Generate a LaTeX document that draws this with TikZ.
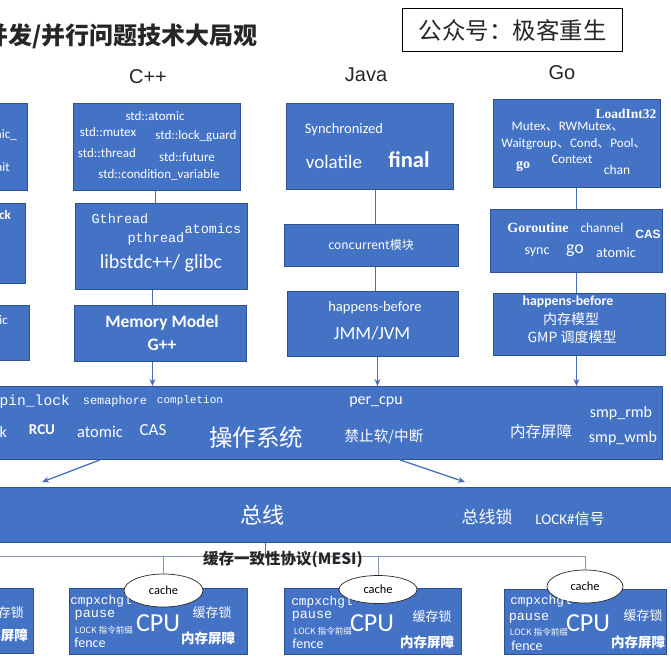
\documentclass[tikz,border=0pt]{standalone}
\usepackage{fontspec}
\setmainfont{Carlito}
\newfontfamily\cjk{Noto Sans CJK SC}
\newfontfamily\mono{Liberation Mono}
\newfontfamily\tms{Liberation Serif}
\newfontfamily\arl{Liberation Sans}
\usetikzlibrary{arrows.meta,calc,shapes.geometric}
\definecolor{boxblue}{HTML}{4472C4}
\definecolor{boxline}{HTML}{2F528F}
\definecolor{lineblue}{HTML}{4A6FB5}
\definecolor{mesigray}{HTML}{8596AE}
\definecolor{darktxt}{HTML}{262626}
\newcommand\fsz[1]{\fontsize{#1pt}{#1pt}\selectfont}
\begin{document}
\begin{tikzpicture}[x=1pt,y=-1pt,
  box/.style={draw=boxline, fill=boxblue, line width=0.9pt, inner sep=0pt, anchor=north west},
  txt/.style={text=white, inner sep=0pt},
  lbl/.style={text=darktxt, inner sep=0pt},
  conn/.style={draw=lineblue, line width=1.3pt},
  arr/.style={conn, -{Stealth[length=7pt,width=6pt]}},
  mesi/.style={draw=mesigray, line width=0.9pt},
  cache/.style={ellipse, draw=darktxt, fill=white, line width=0.7pt, inner sep=0pt, text=black, font=\fsz{12.4}}
]
\useasboundingbox (0,0) rectangle (671,670);

% ---------- headings ----------
\node[lbl, anchor=east, font=\cjk\bfseries\fsz{24}] (title) at (258,36) {并发/并行问题技术大局观};
\node[draw=black, line width=1.1pt, minimum width=220pt, minimum height=43pt, inner sep=0pt, anchor=north west] (wm) at (402,8) {};
\node[lbl, font=\cjk\fsz{23.5}] (wmt) at (wm.center) {公众号：极客重生};
\node[lbl, font=\arl\fsz{20}] (hcpp) at (148,77) {C++};
\node[lbl, font=\arl\fsz{20}] (hjava) at (366,75) {Java};
\node[lbl, font=\arl\fsz{20}] (hgo) at (562,73) {Go};

% ---------- left (cut) column ----------
\node[box, minimum width=37pt, minimum height=87pt] (leftA) at (-10,103) {};
\node[box, minimum width=35pt, minimum height=80pt] (leftB) at (-10,203) {};
\node[box, minimum width=39pt, minimum height=55pt] (leftC) at (-10,305) {};
\node[txt, anchor=east, font=\fsz{13}] (la1) at (17,135) {atomic\_};
\node[txt, anchor=east, font=\fsz{13}] (la2) at (10,167) {wait};
\node[txt, anchor=east, font=\bfseries\fsz{13}] (lb1) at (11,215) {lock};
\node[txt, anchor=east, font=\fsz{13}] (lc1) at (8,320) {atomic};

% ---------- C++ column ----------
\node[box, minimum width=167pt, minimum height=87pt] (cppA) at (73,103) {};
\node[txt, font=\fsz{13}] (ca1) at (155,116) {std::atomic};
\node[txt, font=\fsz{13}] (ca2) at (108,132) {std::mutex};
\node[txt, font=\fsz{13}] (ca3) at (196,136) {std::lock\_guard};
\node[txt, font=\fsz{13}] (ca4) at (107,153) {std::thread};
\node[txt, font=\fsz{13}] (ca5) at (187,157) {std::future};
\node[txt, font=\fsz{13}] (ca6) at (159,175) {std::condition\_variable};

\node[box, minimum width=172pt, minimum height=86pt] (cppB) at (75,203) {};
\node[txt, font=\mono\fsz{13.5}] (cb1) at (120,219) {Gthread};
\node[txt, font=\mono\fsz{13.5}] (cb2) at (213,229) {atomics};
\node[txt, font=\mono\fsz{13.5}] (cb3) at (156,239) {pthread};
\node[txt, font=\fsz{20}] (cb4) at (161,263) {libstdc++/ glibc};

\node[box, minimum width=172pt, minimum height=56pt] (cppC) at (74,305) {};
\node[txt, font=\bfseries\fsz{17.5}] (cc1) at (162,323) {Memory Model};
\node[txt, font=\bfseries\fsz{17.5}] (cc2) at (162,345) {G++};

% ---------- Java column ----------
\node[box, minimum width=167pt, minimum height=86pt] (javaA) at (286,103) {};
\node[txt, font=\fsz{14.5}] (ja1) at (344,130) {Synchronized};
\node[txt, font=\fsz{19}] (ja2) at (334,162) {volatile};
\node[txt, font=\bfseries\fsz{22.5}] (ja3) at (409,160) {final};

\node[box, minimum width=174pt, minimum height=42pt] (javaB) at (284,224) {};
\node[txt, font=\cjk\fsz{12}] (jb1) at (371,245) {concurrent模块};

\node[box, minimum width=171pt, minimum height=65pt] (javaC) at (287,291) {};
\node[txt, font=\fsz{14.5}] (jc1) at (375,308) {happens-before};
\node[txt, font=\fsz{18.5}] (jc2) at (372,333) {JMM/JVM};

% ---------- Go column ----------
\node[box, minimum width=167pt, minimum height=88pt] (goA) at (493,99) {};
\node[txt, font=\tms\bfseries\fsz{13.5}] (ga1) at (626,114) {LoadInt32};
\node[txt, font=\fsz{13}] (ga2) at (568,127) {Mutex{\cjk 、}RWMutex{\cjk 、}};
\node[txt, font=\fsz{13}] (ga3) at (574,144) {Waitgroup{\cjk 、}Cond{\cjk 、}Pool{\cjk 、}};
\node[txt, font=\fsz{13}] (ga4) at (572,159) {Context};
\node[txt, font=\tms\bfseries\fsz{14}] (ga5) at (523,166) {go};
\node[txt, font=\fsz{13.5}] (ga6) at (617,170) {chan};

\node[box, minimum width=172pt, minimum height=63pt] (goB) at (490,209) {};
\node[txt, font=\tms\bfseries\fsz{14}] (gb1) at (538,228) {Goroutine};
\node[txt, font=\fsz{13.4}] (gb2) at (602,228) {channel};
\node[txt, font=\arl\bfseries\fsz{12}] (gb3) at (648,234) {CAS};
\node[txt, font=\fsz{14}] (gb4) at (537,252) {sync};
\node[txt, font=\fsz{18}] (gb5) at (575,251) {go};
\node[txt, font=\fsz{14.3}] (gb6) at (616,253) {atomic};

\node[box, minimum width=172pt, minimum height=62pt] (goC) at (493,293) {};
\node[txt, font=\bfseries\fsz{13.8}] (gc1) at (568,302) {happens-before};
\node[txt, font=\cjk\fsz{14}] (gc2) at (571,319) {内存模型};
\node[txt, font=\cjk\fsz{14}] (gc3) at (572,337) {GMP 调度模型};

% ---------- OS ----------
\node[box, minimum width=672pt, minimum height=73pt] (os) at (-10,386) {};
\node[txt, anchor=east, font=\mono\fsz{14.6}] (o1) at (70,402) {spin\_lock};
\node[txt, font=\mono\fsz{11.9}] (o2) at (115,401) {semaphore};
\node[txt, font=\mono\fsz{11}] (o3) at (190,401) {completion};
\node[txt, anchor=east, font=\fsz{16}] (o4) at (7,432) {lock};
\node[txt, font=\bfseries\fsz{15}] (o5) at (42,430) {RCU};
\node[txt, font=\fsz{16.5}] (o6) at (100,432) {atomic};
\node[txt, font=\fsz{17}] (o7) at (153,430) {CAS};
\node[txt, font=\cjk\fsz{23.5}] (o8) at (256,438) {操作系统};
\node[txt, font=\fsz{16}] (o9) at (376,402) {per\_cpu};
\node[txt, font=\cjk\fsz{14.6}] (o10) at (384,437) {禁止软/中断};
\node[txt, font=\cjk\fsz{15.5}] (o11) at (541,432) {内存屏障};
\node[txt, font=\fsz{16}] (o12) at (621,413) {smp\_rmb};
\node[txt, font=\fsz{16}] (o13) at (623,438) {smp\_wmb};

% ---------- Bus ----------
\node[box, minimum width=700pt, minimum height=55pt] (bus) at (-10,487) {};
\node[txt, font=\cjk\fsz{22}] (b1) at (262,515) {总线};
\node[txt, font=\cjk\fsz{17}] (b2) at (487,517) {总线锁};
\node[txt, font=\fsz{15}] (b3) at (570,519) {LOCK\#{\cjk 信号}};

% ---------- CPUs ----------
\node[box, minimum width=43pt, minimum height=65pt] (cpu1) at (-10,588) {};
\node[txt, anchor=east, font=\cjk\fsz{13}] (p11) at (24,613) {缓存锁};
\node[txt, anchor=east, font=\cjk\bfseries\fsz{13.5}] (p12) at (28,635) {内存屏障};

\node[box, minimum width=178pt, minimum height=66pt] (cpu2) at (69,588) {};
\node[box, minimum width=177pt, minimum height=66pt] (cpu3) at (284,588) {};
\node[box, minimum width=162pt, minimum height=65pt] (cpu4) at (504,589) {};

\node[cache, minimum width=79pt, minimum height=33pt] (cache2) at (163.5,590.5) {cache};
\node[cache, minimum width=78pt, minimum height=28pt] (cache3) at (378,589.5) {cache};
\node[cache, minimum width=76pt, minimum height=33pt] (cache4) at (585,586.5) {cache};

% cpu2
\node[txt, font=\mono\fsz{12.8}] (p21) at (101,601.5) {cmpxchgl};
\node[txt, font=\mono\fsz{13.5}] (p22) at (95,615.5) {pause};
\node[txt, font=\cjk\fsz{8.6}] (p23) at (104,630.5) {LOCK 指令前缀};
\node[txt, font=\fsz{14}] (p24) at (90,643) {fence};
\node[txt, font=\fsz{26}] (p25) at (158,623) {CPU};
\node[txt, font=\cjk\fsz{13}] (p26) at (212,613) {缓存锁};
\node[txt, font=\cjk\bfseries\fsz{13.5}] (p27) at (208,638) {内存屏障};
% cpu3
\node[txt, font=\mono\fsz{12.8}] (p31) at (322,602) {cmpxchgl};
\node[txt, font=\mono\fsz{13.5}] (p32) at (312,616.5) {pause};
\node[txt, font=\cjk\fsz{8.6}] (p33) at (323,631.5) {LOCK 指令前缀};
\node[txt, font=\fsz{14}] (p34) at (308,644) {fence};
\node[txt, font=\fsz{26}] (p35) at (372,623) {CPU};
\node[txt, font=\cjk\fsz{13}] (p36) at (432,617) {缓存锁};
\node[txt, font=\cjk\bfseries\fsz{13.5}] (p37) at (427,642) {内存屏障};
% cpu4
\node[txt, font=\mono\fsz{12.8}] (p41) at (541,601.5) {cmpxchgl};
\node[txt, font=\mono\fsz{13.5}] (p42) at (529,618) {pause};
\node[txt, font=\cjk\fsz{8.6}] (p43) at (539,632.5) {LOCK 指令前缀};
\node[txt, font=\fsz{14}] (p44) at (527,645.5) {fence};
\node[txt, font=\fsz{26}] (p45) at (588,623) {CPU};
\node[txt, font=\cjk\fsz{13}] (p46) at (643,616) {缓存锁};
\node[txt, font=\cjk\bfseries\fsz{13.5}] (p47) at (638,642) {内存屏障};

% ---------- connectors ----------
\draw[conn] ([xshift=-1.5pt]cppA.south) -- ([xshift=-1.5pt]cppA.south |- cppB.north);
\draw[conn] ([xshift=-9pt]cppB.south) -- ([xshift=-9pt]cppB.south |- cppC.north);
\draw[arr]  ([xshift=-8pt]cppC.south) -- ([xshift=-8pt]cppC.south |- os.north);
\draw[conn] ([xshift=5.5pt]javaA.south) -- ([xshift=5.5pt]javaA.south |- javaB.north);
\draw[conn] ([xshift=4pt]javaB.south) -- ([xshift=4pt]javaB.south |- javaC.north);
\draw[arr]  ([xshift=4.5pt]javaC.south) -- ([xshift=4.5pt]javaC.south |- os.north);
\draw[conn] ([xshift=-0.5pt]goA.south) -- ([xshift=-0.5pt]goA.south |- goB.north);
\draw[conn] ([xshift=-0.5pt]goA.south |- goB.south) -- ([xshift=-0.5pt]goA.south |- goC.north);
\draw[arr]  ([xshift=-3pt]goC.south) -- ([xshift=-3pt]goC.south |- os.north);

\draw[arr] ([xshift=110pt]os.south west) -- ([xshift=52pt,yshift=5pt]bus.north west);
\draw[arr] ([xshift=410pt]os.south west) -- ([xshift=475pt,yshift=5pt]bus.north west);

% MESI
\coordinate (mesiJ) at (265,556);
\draw[mesi] (mesiJ -| bus.west) -- (mesiJ -| cache4.north);
\draw[conn, line width=1pt] (bus.south -| mesiJ) -- (mesiJ);
\draw[mesi] (cache2.north |- mesiJ) -- (cache2.north);
\draw[mesi] (cache3.north |- mesiJ) -- (cache3.north);
\draw[mesi] (cache4.north |- mesiJ) -- (cache4.north);
\node[lbl, font=\cjk\bfseries\fsz{15.5}] (mesit) at (283,559) {缓存一致性协议(MESI)};
\end{tikzpicture}
\end{document}
